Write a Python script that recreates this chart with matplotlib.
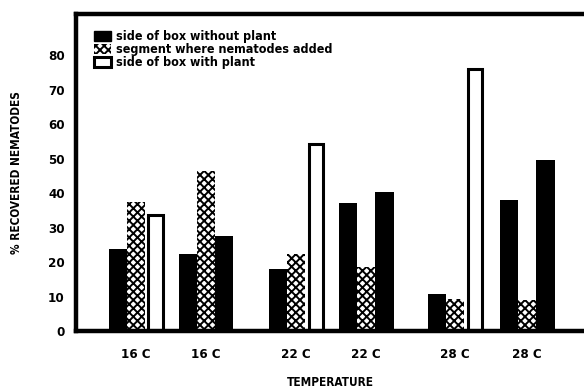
import matplotlib.pyplot as plt
from matplotlib.patches import Patch

# data
temps = ['16 C', '16 C', '22 C', '22 C', '28 C', '28 C']
without_plant = [23.9, 22.3, 18.0, 37.2, 10.8, 38.1]
nematodes_added = [37.4, 46.3, 22.3, 18.7, 9.2, 8.9]
third_bar = [33.8, 27.5, 54.4, 40.2, 76.0, 49.5]
third_is_plant = [True, False, True, False, True, False]

plt.rcParams['font.family'] = ['DejaVu Sans']
plt.rcParams['font.stretch'] = 'condensed'
plt.rcParams['font.weight'] = 'bold'
plt.rcParams['axes.labelweight'] = 'bold'
plt.rcParams['hatch.linewidth'] = 1.4

fig = plt.figure(figsize=(5.84, 3.9), dpi=100)
ax = fig.add_axes([76/584, 1 - 331/390, (584-76)/584, (331-14)/390])

# group centres (pairs of groups)
xc = [0, 1, 2.29, 3.29, 4.56, 5.59]
w = 0.26

for i in range(len(temps)):
    ax.bar(xc[i] - w, without_plant[i], w, color='black', linewidth=0)
    ax.bar(xc[i], nematodes_added[i], w, facecolor='white', edgecolor='black',
           hatch='xxxx', linewidth=0)
    if third_is_plant[i]:
        ax.bar(xc[i] + w + 0.02, third_bar[i], w * 0.78, facecolor='white',
               edgecolor='black', linewidth=2.2)
    else:
        ax.bar(xc[i] + w, third_bar[i], w, color='black', linewidth=0)

ax.set_xlim(-0.857, 6.4)
ax.set_ylim(0, 92)
ax.set_yticks(range(0, 90, 10))
ax.set_xticks(xc)
ax.set_xticklabels(temps)
ax.tick_params(length=0, labelsize=9.5, pad=8)
ax.tick_params(axis='x', pad=12)
ax.spines['right'].set_visible(False)
for s in ['left', 'top', 'bottom']:
    ax.spines[s].set_linewidth(3.2)

ax.set_ylabel('% RECOVERED NEMATODES', fontsize=8.5, labelpad=18)
ax.set_xlabel('TEMPERATURE', fontsize=8.5, labelpad=11)

handles = [Patch(facecolor='black', edgecolor='black'),
           Patch(facecolor='white', edgecolor='black', hatch='xxxx', linewidth=0),
           Patch(facecolor='white', edgecolor='black', linewidth=2.2)]
labels = ['side of box without plant', 'segment where nematodes added',
          'side of box with plant']
ax.legend(handles, labels, loc='upper left', bbox_to_anchor=(0.025, 0.965),
          frameon=False, fontsize=9, handlelength=1.4, handleheight=0.9,
          labelspacing=0.0, handletextpad=0.4, borderaxespad=0)

fig.savefig('out.png', dpi=100)
